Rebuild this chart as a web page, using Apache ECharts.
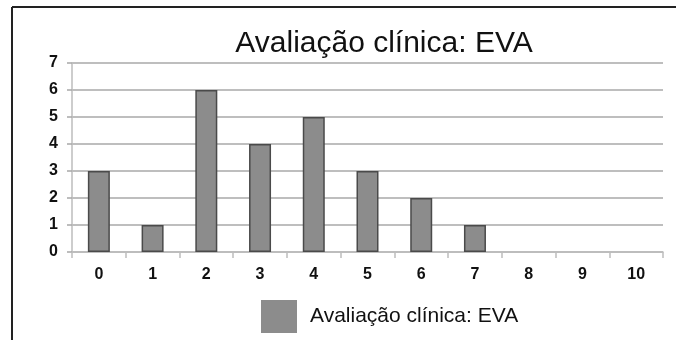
<!DOCTYPE html>
<html>
<head>
<meta charset="utf-8">
<script src="https://cdn.jsdelivr.net/npm/echarts@6/dist/echarts.min.js"></script>
<style>
  html, body { margin: 0; padding: 0; background: #fff; }
  #chart { width: 676px; height: 340px; }
</style>
</head>
<body>
<div id="chart"></div>
<script>
// EVA pain scale scores (0-10) and number of patients per score
const categories = ['0', '1', '2', '3', '4', '5', '6', '7', '8', '9', '10'];
const counts = [3, 1, 6, 4, 5, 3, 2, 1, 0, 0, 0];
const yTicks = [0, 1, 2, 3, 4, 5, 6, 7];
const seriesName = 'Avaliação clínica: EVA';
const titleText = 'Avaliação clínica: EVA';

const font = '"Liberation Sans", Arial, Helvetica, sans-serif';
const chart = echarts.init(document.getElementById('chart'), null, { renderer: 'canvas' });

// empty scores get no outline so nothing is drawn on the axis
const barData = counts.map(v => v === 0 ? { value: v, itemStyle: { borderWidth: 0 } } : v);

chart.setOption({
  backgroundColor: '#ffffff',
  animation: false,
  title: {
    text: titleText,
    left: 379,
    textAlign: 'center',
    top: 24,
    textStyle: { fontFamily: font, fontSize: 30, fontWeight: 'normal', color: '#111' }
  },
  legend: {
    left: 261,
    top: 300,
    padding: 0,
    itemWidth: 36,
    itemHeight: 33,
    icon: 'rect',
    textStyle: { fontFamily: font, fontSize: 21, color: '#111', padding: [0, 0, 0, 8] },
    data: [{ name: seriesName, itemStyle: { color: '#8c8c8c', borderWidth: 0 } }]
  },
  grid: { left: 72, right: 13, top: 63, bottom: 88, containLabel: false },
  xAxis: {
    type: 'category',
    data: categories,
    axisLine: { lineStyle: { color: '#bdbdbd', width: 1.5 } },
    axisTick: { show: true, length: 6, lineStyle: { color: '#bdbdbd', width: 1.5 } },
    axisLabel: { fontFamily: font, fontSize: 16, fontWeight: 'bold', color: '#111', margin: 15 }
  },
  yAxis: {
    type: 'value',
    min: yTicks[0],
    max: yTicks[yTicks.length - 1],
    interval: 1,
    axisLine: { show: true, lineStyle: { color: '#bdbdbd', width: 1.5 } },
    axisTick: { show: true, length: 5, lineStyle: { color: '#a8a8a8', width: 1.5 } },
    axisLabel: { fontFamily: font, fontSize: 16, fontWeight: 'bold', color: '#111', margin: 14 },
    splitLine: { show: true, lineStyle: { color: '#a8a8a8', width: 1.5 } }
  },
  series: [{
    name: seriesName,
    type: 'bar',
    data: barData,
    barWidth: 22,
    itemStyle: { color: '#8c8c8c', borderColor: '#4a4a4a', borderWidth: 1.5 }
  }],
  graphic: [
    // outer frame: top and left edges
    { type: 'line', shape: { x1: 12, y1: 7, x2: 676, y2: 7 }, style: { stroke: '#222', lineWidth: 2 }, silent: true },
    { type: 'line', shape: { x1: 12, y1: 7, x2: 12, y2: 340 }, style: { stroke: '#222', lineWidth: 2 }, silent: true }
  ]
});
</script>
</body>
</html>
